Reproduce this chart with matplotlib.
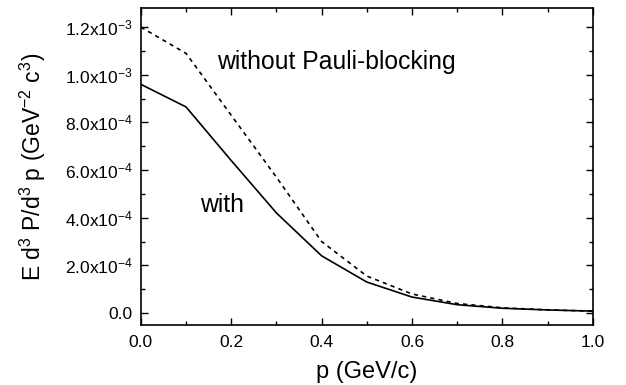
import numpy as np
import matplotlib
matplotlib.use('Agg')
import matplotlib.pyplot as plt
from matplotlib.ticker import MultipleLocator, FuncFormatter

plt.rcParams['font.family'] = 'Liberation Sans'
plt.rcParams['mathtext.fontset'] = 'custom'
plt.rcParams['mathtext.rm'] = 'Liberation Sans'
plt.rcParams['mathtext.it'] = 'Liberation Sans'

# momentum grid and spectra (GeV^-2 c^3)
p = [0.0, 0.1, 0.2, 0.3, 0.4, 0.5, 0.6, 0.7, 0.8, 0.9, 1.0]
with_pb = [9.6e-4, 8.65e-4, 6.4e-4, 4.2e-4, 2.4e-4, 1.3e-4, 0.67e-4, 0.35e-4, 0.2e-4, 0.13e-4, 0.08e-4]
without_pb = [1.2e-3, 1.09e-3, 8.3e-4, 5.7e-4, 3.0e-4, 1.55e-4, 0.8e-4, 0.4e-4, 0.22e-4, 0.13e-4, 0.08e-4]

fig = plt.figure(figsize=(6.26, 3.85), dpi=100)
ax = fig.add_axes([0.225, 0.156, 0.722, 0.823])

ax.plot(p, with_pb, color='black', lw=1.2)
ax.plot(p, without_pb, color='black', lw=1.2, ls=(0, (2.5, 2.5)))

ax.set_xlim(0.0, 1.0)
ax.set_ylim(-0.5e-4, 1.28e-3)

ax.xaxis.set_major_locator(MultipleLocator(0.2))
ax.xaxis.set_minor_locator(MultipleLocator(0.1))
ax.yaxis.set_major_locator(MultipleLocator(2e-4))
ax.yaxis.set_minor_locator(MultipleLocator(1e-4))

def sci(v, pos):
    if abs(v) < 1e-12:
        return '0.0'
    e = int(np.floor(np.log10(abs(v)) + 1e-9))
    m = v / 10**e
    return r'$%.1f\mathrm{x}10^{%d}$' % (m, e)

ax.yaxis.set_major_formatter(FuncFormatter(sci))
ax.xaxis.set_major_formatter(FuncFormatter(lambda v, pos: '%.1f' % v))

for s in ax.spines.values():
    s.set_linewidth(1.2)
ax.tick_params(which='both', direction='in', top=True, right=True, labelsize=12.5, width=1.0)
ax.tick_params(which='major', length=5)
ax.tick_params(which='minor', length=3)
ax.tick_params(axis='x', pad=7)
ax.tick_params(axis='y', pad=6)

ax.set_xlabel('p (GeV/c)', fontsize=17, labelpad=8)
ax.set_ylabel(r'E d$^3$ P/d$^3$ p (GeV$^{-2}$ c$^3$)', fontsize=16.5, labelpad=12)

ax.text(0.168, 10.55e-4, 'without Pauli-blocking', fontsize=17.8, va='center')
ax.text(0.131, 4.54e-4, 'with', fontsize=17.8, va='center')

fig.savefig('out.png', dpi=100)
